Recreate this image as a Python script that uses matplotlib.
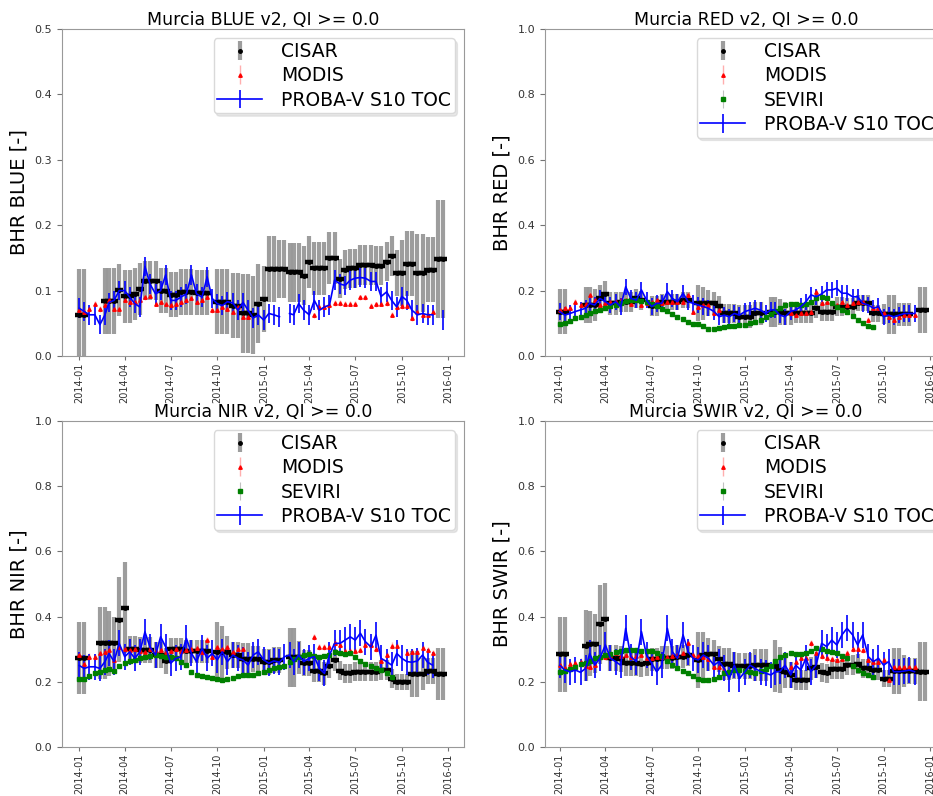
import numpy as np
import pandas as pd
import matplotlib
matplotlib.use('Agg')
import matplotlib.pyplot as plt
import matplotlib.dates as mdates

nan = np.nan

# S10 dekad dates (1st, 11th, 21st of each month), Jan 2014 - Dec 2015
dekads = pd.to_datetime([f'{y}-{m:02d}-{d:02d}' for y in (2014, 2015)
                         for m in range(1, 13) for d in (1, 11, 21)])

# ---------------- BLUE ----------------
blue_cisar = [0.063, 0.063, nan, nan, nan, 0.084, 0.084, 0.084, 0.101, 0.091, 0.091, 0.095,
              0.102, 0.115, 0.115, 0.115, 0.100, 0.100, 0.094, 0.094, 0.098, 0.098, 0.098, 0.097,
              0.097, 0.097, nan, 0.083, 0.083, 0.083, 0.077, 0.077, 0.065, 0.065, 0.063, 0.080,
              0.087, 0.133, 0.133, 0.133, 0.133, 0.128, 0.128, 0.128, 0.123, 0.144, 0.134, 0.134,
              0.134, 0.150, 0.150, 0.118, 0.132, 0.134, 0.134, 0.139, 0.139, 0.139, 0.138, 0.138,
              0.144, 0.153, 0.127, 0.127, 0.141, 0.141, 0.127, 0.127, 0.132, 0.132, 0.148, 0.148]
blue_cisar_err = [0.07, 0.07, nan, nan, nan, 0.05, 0.05, 0.05, 0.04, 0.04, 0.04, 0.04,
                  0.04, 0.03, 0.03, 0.03, 0.035, 0.035, 0.035, 0.035, 0.035, 0.035, 0.035, 0.035,
                  0.035, 0.035, nan, 0.05, 0.05, 0.05, 0.05, 0.05, 0.06, 0.06, 0.06, 0.06,
                  0.05, 0.05, 0.05, 0.045, 0.045, 0.045, 0.045, 0.045, 0.045, 0.04, 0.04, 0.04,
                  0.04, 0.04, 0.04, 0.03, 0.03, 0.03, 0.03, 0.03, 0.03, 0.03, 0.03, 0.03,
                  0.03, 0.03, 0.035, 0.05, 0.05, 0.05, 0.06, 0.06, 0.05, 0.05, 0.09, 0.09]
blue_modis = [0.070, 0.068, 0.072, 0.080, 0.072, 0.078, 0.085, 0.072, 0.072, 0.085, 0.083, 0.082,
              0.085, 0.090, 0.092, 0.080, 0.082, 0.080, 0.078, 0.080, 0.082, 0.085, 0.088, 0.083,
              0.086, 0.090, 0.070, 0.070, 0.075, 0.072, 0.068, 0.075, 0.060, 0.060, nan, nan,
              nan, nan, nan, nan, nan, nan, nan, nan, nan, nan, 0.062, 0.075,
              0.075, 0.078, 0.081, 0.081, 0.080, 0.080, 0.080, 0.090, 0.090, 0.077, 0.079, 0.080,
              0.081, 0.063, 0.075, 0.076, 0.077, 0.058, 0.067, 0.062, 0.062, 0.068, nan, nan]
blue_proba = [0.073, 0.068, 0.063, 0.063, 0.048, 0.063, 0.082, 0.085, 0.100, 0.100, 0.090, 0.080,
              0.075, 0.137, 0.110, 0.095, 0.100, 0.124, 0.085, 0.085, 0.090, 0.095, 0.124, 0.095,
              0.090, 0.121, 0.088, 0.080, 0.077, 0.083, 0.081, 0.070, 0.082, 0.070, 0.058, 0.063,
              0.055, 0.065, 0.063, 0.060, nan, 0.065, 0.063, 0.080, 0.070, 0.063, 0.085, 0.070,
              0.075, 0.078, 0.116, 0.110, 0.108, 0.116, 0.119, 0.120, 0.119, 0.114, 0.114, 0.091,
              0.098, 0.085, 0.075, 0.091, 0.085, 0.070, 0.063, 0.065, 0.063, 0.063, nan, 0.055]

# ---------------- RED ----------------
red_cisar = [0.136, 0.136, nan, nan, nan, 0.156, 0.156, 0.156, 0.176, 0.190, 0.161, 0.161,
             0.166, 0.166, 0.166, 0.176, 0.170, nan, 0.153, 0.153, 0.166, 0.166, 0.166, 0.166,
             0.171, 0.171, nan, 0.161, 0.161, 0.161, 0.161, 0.153, 0.130, 0.130, 0.130, 0.120,
             0.120, 0.120, 0.130, 0.130, nan, 0.135, 0.135, 0.135, 0.130, 0.130, 0.130, 0.130,
             0.130, 0.130, 0.146, 0.136, 0.136, 0.136, 0.151, 0.151, 0.151, 0.151, 0.163, 0.163,
             0.163, 0.130, 0.130, 0.128, 0.128, 0.128, 0.128, 0.128, 0.128, nan, 0.140, 0.140]
red_cisar_err = [0.07, 0.07, nan, nan, nan, 0.055, 0.055, 0.05, 0.04, 0.04, 0.035, 0.035,
                 0.03, 0.03, 0.03, 0.03, 0.03, nan, 0.03, 0.03, 0.025, 0.025, 0.025, 0.025,
                 0.025, 0.025, nan, 0.055, 0.05, 0.04, 0.035, 0.03, 0.03, 0.03, 0.03, 0.035,
                 0.035, 0.035, 0.035, 0.035, nan, 0.045, 0.045, 0.04, 0.035, 0.035, 0.03, 0.03,
                 0.03, 0.03, 0.03, 0.03, 0.03, 0.03, 0.03, 0.03, 0.025, 0.025, 0.025, 0.025,
                 0.025, 0.025, 0.025, 0.03, 0.06, 0.06, 0.035, 0.035, 0.035, nan, 0.07, 0.07]
red_modis = [0.140, 0.146, 0.146, 0.166, 0.156, 0.160, 0.187, 0.171, 0.156, 0.161, 0.165, 0.166,
             0.171, 0.171, 0.160, 0.171, 0.156, 0.162, 0.166, 0.171, 0.161, 0.166, 0.166, 0.166,
             0.166, 0.187, 0.136, 0.150, 0.156, 0.156, 0.130, 0.140, nan, nan, nan, nan,
             nan, nan, nan, nan, nan, nan, nan, nan, nan, 0.130, 0.125, 0.130,
             0.130, 0.135, 0.197, 0.161, 0.166, 0.161, 0.156, 0.166, 0.156, 0.161, 0.166, 0.166,
             0.110, 0.146, 0.146, 0.130, 0.120, 0.110, 0.120, 0.125, 0.125, 0.125, nan, nan]
red_seviri = [0.097, 0.100, 0.108, 0.115, 0.120, 0.126, 0.132, 0.137, 0.142, 0.147, 0.152, 0.157,
              0.162, 0.167, 0.170, 0.170, 0.168, 0.164, 0.158, 0.152, 0.145, 0.137, 0.128, 0.120,
              0.112, 0.104, 0.099, 0.097, 0.092, 0.083, 0.083, 0.086, 0.090, 0.091, 0.093, 0.095,
              0.096, 0.100, 0.105, 0.110, 0.118, 0.128, 0.138, 0.148, 0.157, 0.160, 0.158, 0.157,
              0.158, 0.165, 0.178, 0.180, 0.176, 0.163, 0.150, 0.142, 0.135, 0.122, 0.110, 0.100,
              0.093, 0.090, nan, nan, nan, nan, nan, nan, nan, nan, nan, nan]
red_proba = [0.136, 0.125, 0.130, 0.136, 0.141, 0.146, 0.161, 0.156, 0.176, 0.166, 0.156, 0.166,
             0.151, 0.212, 0.176, 0.171, 0.202, 0.171, 0.151, 0.161, 0.161, 0.197, 0.176, 0.166,
             0.192, 0.166, 0.161, 0.156, 0.151, 0.146, 0.136, 0.120, 0.125, 0.120, 0.130, 0.125,
             0.136, 0.141, 0.146, 0.140, 0.130, 0.141, 0.141, 0.125, 0.120, 0.136, 0.141, 0.151,
             0.166, 0.187, 0.181, 0.190, 0.202, 0.202, 0.207, 0.192, 0.192, 0.181, 0.181, 0.161,
             0.156, 0.146, 0.151, 0.120, 0.125, 0.120, 0.125, 0.130, 0.130, 0.130, nan, nan]

# ---------------- NIR ----------------
nir_cisar = [0.274, 0.274, nan, nan, 0.318, 0.318, 0.318, 0.318, 0.391, 0.427, 0.300, 0.300,
             0.298, 0.298, 0.298, 0.282, 0.282, 0.264, 0.300, 0.300, 0.300, 0.293, 0.293, 0.293,
             0.293, 0.293, nan, 0.292, 0.290, 0.290, 0.282, 0.282, 0.270, 0.270, 0.269, 0.269,
             0.262, 0.262, 0.267, 0.267, nan, 0.275, 0.275, 0.275, 0.257, 0.257, 0.234, 0.234,
             0.226, 0.248, 0.267, 0.234, 0.226, 0.226, 0.231, 0.231, 0.231, 0.231, 0.231, 0.236,
             0.236, 0.210, 0.200, 0.200, 0.200, 0.224, 0.224, 0.224, 0.234, 0.234, 0.223, 0.223]
nir_cisar_err = [0.11, 0.11, nan, nan, 0.11, 0.11, 0.10, 0.08, 0.13, 0.14, 0.04, 0.04,
                 0.04, 0.04, 0.04, 0.04, 0.04, 0.04, 0.035, 0.035, 0.035, 0.035, 0.035, 0.035,
                 0.035, 0.035, nan, 0.09, 0.08, 0.05, 0.04, 0.04, 0.05, 0.05, 0.04, 0.04,
                 0.04, 0.04, 0.04, 0.04, nan, 0.09, 0.09, 0.05, 0.04, 0.04, 0.035, 0.035,
                 0.035, 0.035, 0.035, 0.03, 0.03, 0.03, 0.03, 0.03, 0.03, 0.03, 0.03, 0.03,
                 0.03, 0.03, 0.025, 0.025, 0.025, 0.07, 0.07, 0.05, 0.04, 0.04, 0.08, 0.08]
nir_modis = [0.282, 0.255, 0.277, 0.275, 0.287, 0.292, 0.297, 0.267, 0.307, 0.300, 0.298, 0.300,
             0.295, 0.292, 0.300, 0.295, 0.298, 0.290, 0.295, 0.300, 0.295, 0.298, 0.300, 0.305,
             0.290, 0.328, 0.277, 0.307, 0.300, 0.307, 0.290, 0.300, 0.300, nan, nan, nan,
             nan, nan, nan, nan, nan, nan, nan, nan, nan, nan, 0.338, 0.307,
             0.307, 0.307, 0.320, 0.313, 0.295, 0.295, 0.295, 0.298, 0.313, 0.313, 0.300, 0.264,
             0.282, 0.311, 0.311, nan, 0.287, 0.290, 0.292, 0.303, 0.298, 0.287, nan, nan]
nir_seviri = [0.208, 0.210, 0.218, 0.226, 0.230, 0.235, 0.238, 0.232, 0.250, 0.258, 0.263, 0.268,
              0.272, 0.276, 0.280, 0.282, 0.280, 0.277, 0.275, 0.272, 0.262, 0.252, 0.231, 0.222,
              0.219, 0.216, 0.213, 0.209, 0.206, 0.208, 0.213, 0.217, 0.221, 0.221, 0.222, 0.226,
              0.231, 0.236, 0.241, 0.246, 0.250, 0.260, 0.270, 0.277, 0.282, 0.284, 0.280, 0.277,
              0.280, 0.282, 0.292, 0.289, 0.285, 0.287, 0.275, 0.265, 0.256, 0.248, 0.241, 0.235,
              0.228, 0.216, nan, nan, nan, nan, nan, nan, nan, nan, nan, nan]
nir_proba = [0.250, 0.241, 0.246, 0.246, 0.241, 0.262, 0.287, 0.262, 0.318, 0.277, 0.292, 0.272,
             0.292, 0.353, 0.307, 0.282, 0.338, 0.307, 0.257, 0.272, 0.277, 0.333, 0.287, 0.262,
             0.303, 0.272, 0.287, 0.267, 0.292, 0.262, 0.282, 0.272, 0.267, 0.251, 0.282, 0.292,
             0.267, 0.257, 0.264, 0.260, 0.277, 0.282, 0.262, 0.282, 0.262, 0.272, 0.277, 0.241,
             0.226, 0.282, 0.318, 0.318, 0.328, 0.338, 0.328, 0.349, 0.323, 0.307, 0.343, 0.272,
             0.262, 0.251, 0.287, 0.272, 0.262, 0.260, 0.264, 0.282, 0.260, 0.251, nan, nan]

# ---------------- SWIR ----------------
swir_cisar = [0.284, 0.284, nan, nan, nan, 0.311, 0.317, 0.317, 0.376, 0.392, 0.272, 0.272,
              0.270, 0.257, 0.257, 0.257, 0.254, 0.257, 0.269, 0.269, 0.274, 0.274, 0.274, 0.277,
              0.277, 0.282, nan, 0.267, 0.282, 0.284, 0.284, 0.269, 0.255, 0.254, 0.250, 0.249,
              0.249, 0.248, 0.252, 0.252, 0.252, nan, 0.248, 0.236, 0.231, 0.221, 0.206, 0.206,
              0.206, 0.241, 0.246, 0.229, 0.226, 0.238, 0.240, 0.238, 0.252, 0.252, 0.254, 0.241,
              0.241, 0.236, 0.236, 0.210, 0.210, 0.233, 0.233, 0.233, 0.233, 0.233, 0.231, 0.231]
swir_cisar_err = [0.115, 0.115, nan, nan, nan, 0.11, 0.10, 0.09, 0.12, 0.11, 0.04, 0.04,
                  0.04, 0.04, 0.04, 0.04, 0.04, 0.04, 0.035, 0.035, 0.035, 0.035, 0.035, 0.035,
                  0.035, 0.035, nan, 0.085, 0.07, 0.05, 0.045, 0.04, 0.05, 0.05, 0.04, 0.04,
                  0.04, 0.04, 0.05, 0.05, 0.05, nan, 0.08, 0.07, 0.05, 0.04, 0.03, 0.03,
                  0.03, 0.035, 0.035, 0.03, 0.03, 0.03, 0.03, 0.03, 0.03, 0.03, 0.03, 0.03,
                  0.03, 0.03, 0.03, 0.025, 0.025, 0.07, 0.07, 0.05, 0.04, 0.04, 0.09, 0.09]
swir_modis = [0.252, 0.241, 0.255, 0.257, 0.262, 0.250, 0.244, 0.252, 0.277, 0.277, 0.280, 0.287,
              0.279, 0.282, 0.277, 0.280, 0.282, 0.272, 0.274, 0.277, 0.275, 0.277, 0.280, 0.282,
              0.287, 0.318, 0.282, 0.280, 0.277, 0.269, 0.246, 0.246, 0.236, nan, nan, nan,
              nan, nan, nan, nan, nan, nan, nan, nan, nan, 0.245, 0.260, 0.272,
              0.272, 0.318, 0.287, 0.279, 0.272, 0.269, 0.267, 0.270, 0.289, 0.300, 0.300, 0.297,
              0.267, 0.262, 0.262, 0.267, 0.206, 0.244, 0.246, 0.244, 0.244, 0.244, nan, nan]
swir_seviri = [0.229, 0.232, 0.240, 0.246, 0.254, 0.258, 0.265, 0.272, 0.277, 0.282, 0.285, 0.290,
               0.294, 0.297, 0.297, 0.297, 0.296, 0.295, 0.293, 0.287, 0.278, 0.265, 0.252, 0.241,
               0.232, 0.226, 0.218, 0.210, 0.205, 0.204, 0.210, 0.216, 0.226, 0.231, 0.236, 0.235,
               0.233, 0.230, 0.228, 0.232, 0.238, 0.250, 0.265, 0.277, 0.283, 0.287, 0.285, 0.285,
               0.288, 0.296, 0.304, 0.300, 0.295, 0.292, 0.288, 0.280, 0.272, 0.250, 0.236, 0.226,
               0.220, 0.214, nan, nan, nan, nan, nan, nan, nan, nan, nan, nan]
swir_proba = [0.251, 0.236, 0.231, 0.236, 0.229, 0.241, 0.287, 0.251, 0.272, 0.313, 0.272, 0.262,
              0.251, 0.364, 0.277, 0.262, 0.354, 0.282, 0.257, 0.231, 0.251, 0.364, 0.292, 0.272,
              0.344, 0.292, 0.272, 0.267, 0.282, 0.272, 0.251, 0.262, 0.241, 0.210, 0.251, 0.210,
              0.231, 0.251, 0.241, 0.231, 0.226, 0.221, 0.230, 0.232, 0.251, 0.221, 0.251, 0.236,
              0.272, 0.231, 0.251, 0.318, 0.308, 0.328, 0.313, 0.344, 0.364, 0.344, 0.313, 0.344,
              0.277, 0.262, 0.272, 0.251, 0.262, 0.231, 0.231, 0.233, 0.236, 0.231, nan, nan]


def draw_panel(ax, band, ymax, cisar, cisar_err, modis, modis_err, proba, proba_err,
               seviri=None, left_days=34, right_days=31):
    ax.errorbar(dekads, cisar, yerr=cisar_err, fmt='o', ms=2.5, color='k',
                ecolor=(0.3, 0.3, 0.3, 0.55), elinewidth=3, label='CISAR')
    # CISAR dekad values drawn as short horizontal dashes
    ax.plot(dekads, cisar, ls='none', marker='_', ms=6, mew=3.2, color='k')
    ax.errorbar(dekads, modis, yerr=modis_err, fmt='^', ms=2.5, color='red',
                ecolor=(1.0, 0.55, 0.55, 0.7), elinewidth=1, label='MODIS')
    if seviri is not None:
        ax.errorbar(dekads, seviri, yerr=0.004, fmt='s', ms=3, color='green',
                    ecolor=(0.6, 0.6, 0.6, 0.6), elinewidth=0.8, label='SEVIRI')
    ax.errorbar(dekads, proba, yerr=proba_err, fmt='-', color='blue', lw=1.2,
                elinewidth=1.2, label='PROBA-V S10 TOC')

    ax.set_xlim(pd.Timestamp('2014-01-01') - pd.Timedelta(days=left_days),
                pd.Timestamp('2016-01-01') + pd.Timedelta(days=right_days))
    ax.set_ylim(0, ymax)
    ax.xaxis.set_major_locator(mdates.MonthLocator(bymonth=[1, 4, 7, 10]))
    ax.xaxis.set_major_formatter(mdates.DateFormatter('%Y-%m'))
    ax.tick_params(axis='x', labelrotation=90, labelsize=7, length=3, pad=1.5)
    ax.tick_params(axis='y', labelsize=8)
    ax.tick_params(colors='0.45', labelcolor='0.2')
    for sp in ax.spines.values():
        sp.set_color('0.6')
    ax.set_title(f'Murcia {band} v2, QI >= 0.0', fontsize=12.5, pad=1)
    ax.set_ylabel(f'BHR {band} [-]', fontsize=14)
    ax.legend(loc='upper right', fontsize=13.5, labelspacing=0.28, borderpad=0.2,
              handlelength=2.4, handletextpad=1.0,
              shadow={'color': '0.75', 'alpha': 0.35}, framealpha=1, edgecolor='0.85')


fig = plt.figure(figsize=(9.33, 7.96), dpi=100)
ax_blue = fig.add_axes([62 / 933, 440 / 796, 402 / 933, 327 / 796])
ax_red = fig.add_axes([545 / 933, 440 / 796, 402 / 933, 327 / 796])
ax_nir = fig.add_axes([62 / 933, 49 / 796, 402 / 933, 326 / 796])
ax_swir = fig.add_axes([545 / 933, 49 / 796, 402 / 933, 326 / 796])

draw_panel(ax_blue, 'BLUE', 0.5, blue_cisar, blue_cisar_err, blue_modis, 0.004,
           blue_proba, 0.015)
draw_panel(ax_red, 'RED', 1.0, red_cisar, red_cisar_err, red_modis, 0.008,
           red_proba, 0.025, seviri=red_seviri, left_days=29, right_days=33)
draw_panel(ax_nir, 'NIR', 1.0, nir_cisar, nir_cisar_err, nir_modis, 0.01,
           nir_proba, 0.04, seviri=nir_seviri)
draw_panel(ax_swir, 'SWIR', 1.0, swir_cisar, swir_cisar_err, swir_modis, 0.01,
           swir_proba, 0.04, seviri=swir_seviri, left_days=29, right_days=33)

fig.savefig('out.png', dpi=100)
